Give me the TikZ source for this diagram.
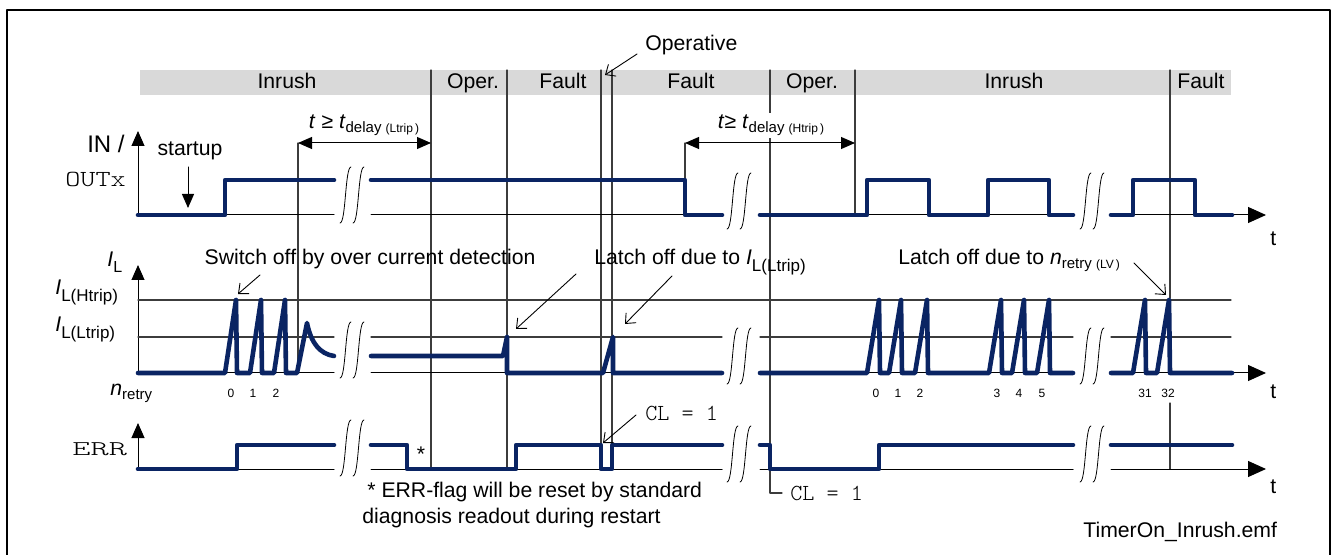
\documentclass[tikz,border=0pt]{standalone}
\usepackage{fontspec}
\setmainfont{Liberation Sans}
\newfontfamily\codefont{lmmonolt10-regular.otf}
\newfontfamily\codewide[FakeStretch=1.25]{lmmonolt10-regular.otf}
\newfontfamily\codexwide[FakeStretch=1.65]{lmmonolt10-regular.otf}
\usetikzlibrary{arrows.meta}
\definecolor{tmNavy}{HTML}{0A2463}
\definecolor{tmBand}{HTML}{D9D9D9}
\definecolor{tmPhase}{HTML}{3C3C3C}
\newcommand{\tmSigW}{2.3pt}
\newcommand{\tmThinW}{0.5pt}
% small subscripts as printed in the timing chart
\newcommand{\ssub}[1]{\raisebox{-2pt}{\fontsize{7.5}{8}\selectfont #1}}
\newcommand{\tsub}[1]{{\fontsize{6}{7}\selectfont #1}}
\newcommand{\Isub}[1]{\textit{I}\raisebox{-3.5pt}{\fontsize{8.5}{10}\selectfont #1}}
\tikzset{
  sig/.style={tmNavy, line width=\tmSigW, line join=round, line cap=round},
  thinline/.style={black, line width=\tmThinW},
  levelline/.style={tmPhase, line width=0.55pt},
  timeaxis/.style={thinline, -{Triangle[length=9pt,width=8pt]}},
  valaxis/.style={thinline, -{Triangle[length=7.5pt,width=6.5pt]}},
  phase/.style={tmPhase, line width=0.6pt},
  dimline/.style={thinline, {Triangle[length=7pt,width=6pt]}-{Triangle[length=7pt,width=6pt]}},
  callout/.style={black, line width=0.45pt, -{Straight Barb[length=4pt,width=7pt]}},
  startarrow/.style={thinline, -{Triangle[length=7pt,width=6pt]}},
  breakmark/.style={black, line width=0.4pt},
  lab/.style={inner sep=0pt, anchor=base},
  labw/.style={inner sep=0pt, anchor=base west},
  retrylab/.style={inner sep=0pt, anchor=base, font=\fontsize{6}{7}\selectfont},
}
\newcommand{\tmBreak}[2]{%
  \draw[breakmark, shift={(#1,#2)}]
    (-13,28) .. controls (-7,28) and (-8,-28) .. (-2,-28)
    (0,28) .. controls (6,28) and (5,-28) .. (11,-28);}

\begin{document}
\begin{tikzpicture}[x=0.5pt, y=-0.5pt, font=\fontsize{10.6}{13}\selectfont,
                    line cap=round, line join=round]
  \useasboundingbox (0,0) rectangle (1332,555);
  % Outer frame (bottom edge lies outside the picture)
  \draw[black, line width=0.6pt] (7,555) -- (7,10) -- (1330,10) -- (1330,555);

  % --- Phase band ---
  \fill[tmBand] (140,70) rectangle (1231,95);
  \node[lab] (phInrushA) at (287,89) {Inrush};
  \node[lab] (phOperA)   at (473,89) {Oper.};
  \node[lab] (phFaultA)  at (563,89) {Fault};
  \node[lab] (phFaultB)  at (691,89) {Fault};
  \node[lab] (phOperB)   at (812,89) {Oper.};
  \node[lab] (phInrushB) at (1014,89) {Inrush};
  \node[lab] (phFaultC)  at (1201,89) {Fault};

  % Phase boundaries
  \foreach \x in {431,507,601,612}
    \draw[phase] (\x,70) -- (\x,469);
  \draw[phase] (770,70) |- (782,493);
  \draw[phase] (855,70) -- (855,215);
  \draw[phase] (1170,70) -- (1170,298);
  \draw[phase] (1170,403) -- (1170,469);
  \draw[phase] (298,143) -- (298,373);
  \draw[phase] (685,143) -- (685,180);

  % Operative marker
  \node[labw] (opLab) at (645,51) {Operative};
  \coordinate (opTail) at (637,54);
  \coordinate (opTip) at (605,75);
  \draw[callout] (opTail) -- (opTip);

  % --- Delay dimensions ---
  \coordinate (dimLa) at (298,143);
  \coordinate (dimLb) at (431,143);
  \draw[dimline] (dimLa) -- (dimLb);
  \node[lab] (dimLlab) at (364,129)
    {\textit{t} ≥ \textit{t}\ssub{delay \tsub{(Ltrip\,)}}};
  \coordinate (dimHa) at (685,143);
  \coordinate (dimHb) at (855,143);
  \draw[dimline] (dimHa) -- (dimHb);
  \node[lab, fill=white, inner sep=1pt] (dimHlab) at (771,129)
    {\textit{t}≥ \textit{t}\ssub{delay \tsub{(Htrip\,)}}};

  % --- Axes and reference levels ---
  \draw[valaxis] (138,215) -- (138,131);
  \draw[valaxis] (138,373) -- (138,265);
  \draw[valaxis] (138,469) -- (138,423);
  \foreach \y in {215,373,469} {
    \draw[thinline] (138,\y) -- (334,\y) (371,\y) -- (722,\y) (760,\y) -- (1073,\y);
    \draw[timeaxis] (1111,\y) -- (1266,\y);
  }
  \draw[levelline] (138,300) -- (1231,300);
  \draw[levelline] (138,337) -- (334,337) (371,337) -- (722,337)
    (760,337) -- (1073,337) (1111,337) -- (1231,337);

  % Time breaks
  \foreach \x/\dy in {353/0,740/6,1093/6} {
    \tmBreak{\x}{195+\dy}
    \tmBreak{\x}{350+\dy}
    \tmBreak{\x}{448+\dy}
  }

  % --- Axis labels ---
  \node[inner sep=0pt, anchor=base east, font=\fontsize{12}{14}\selectfont] (inLab) at (125,153) {IN /};
  \node[labw] (outLab) at (65,187) {\fontsize{11.5}{12}\codewide OUTx};
  \node[labw] (ilLab) at (107,267) {\textit{I}\raisebox{-3pt}{\fontsize{8}{9}\selectfont L}};
  \node[labw] (htripLab) at (55,295) {\Isub{L(Htrip)}};
  \node[labw] (ltripLab) at (55,332) {\Isub{L(Ltrip)}};
  \node[labw] (nretryLab) at (110,395) {\textit{n}\ssub{retry}};
  \node[labw] (errLab) at (72,455) {\fontsize{10.5}{12}\codexwide ERR};
  \foreach \y/\k in {246/a,398/b,493/c}
    \node[labw] (tLab\k) at (1270,\y) {t};

  % --- IN / OUTx ---
  \node[lab] (suLab) at (190,156) {startup};
  \coordinate (suTail) at (188,167);
  \coordinate (suTip) at (188,208);
  \draw[startarrow] (suTail) -- (suTip);
  \draw[sig] (138,215) -- (225,215) -- (225,180) -- (334,180);
  \draw[sig] (371,180) -- (685,180) -- (685,215) -- (722,215);
  \draw[sig] (760,215) -- (867,215) -- (867,180) -- (929,180) -- (929,215)
    -- (988,215) -- (988,180) -- (1049,180) -- (1049,215) -- (1073,215);
  \draw[sig] (1111,215) -- (1133,215) -- (1133,180) -- (1195,180)
    -- (1195,215) -- (1232,215);

  % --- Load current I_L ---
  \draw[sig] (138,373) \foreach \s in {225,250,274} { -- (\s,373) -- ++(11,-73) -- ++(1,73) }
    -- (297,373) -- (307,323) .. controls (311,343) and (320,354) .. (334,356);
  \draw[sig] (371,356) -- (503,356) -- (507,337) -- (507,373) -- (603,373)
    -- (613,337) -- (613,373) -- (722,373);
  \draw[sig] (760,373) \foreach \s in {867,889,915,989,1012,1037} { -- (\s,373) -- ++(12,-73) -- ++(1,73) }
    -- (1073,373);
  \draw[sig] (1111,373) \foreach \s in {1133,1157} { -- (\s,373) -- ++(12,-73) -- ++(1,73) }
    -- (1232,373);

  % retry counter
  \foreach \x/\nlab [count=\i] in {231/0,253/1,276/2,876/0,898/1,920/2,997/3,1019/4,1042/5,1145/31,1168/32}
    \node[retrylab] (retry\i) at (\x,397) {\nlab};

  % callouts
  \node[lab] (swLab) at (370,265) {Switch off by over current detection};
  \coordinate (swTail) at (260,275);
  \coordinate (swTip) at (238,294);
  \draw[callout] (swTail) -- (swTip);
  \node[labw] (latchLab) at (594,265) {Latch off due to \Isub{L(Ltrip)}};
  \coordinate (latchTailA) at (576,274);
  \coordinate (latchTipA) at (516,329);
  \coordinate (latchTailB) at (672,276);
  \coordinate (latchTipB) at (625,324);
  \draw[callout] (latchTailA) -- (latchTipA);
  \draw[callout] (latchTailB) -- (latchTipB);
  \node[labw] (retryLab) at (898,265) {Latch off due to \textit{n}\ssub{retry \tsub{(LV\,)}}};
  \coordinate (retryTail) at (1134,263);
  \coordinate (retryTip) at (1166,295);
  \draw[callout] (retryTail) -- (retryTip);

  % --- ERR flag ---
  \draw[sig] (138,469) -- (237,469) -- (237,445) -- (334,445);
  \draw[sig] (371,445) -- (407,445) -- (407,469) -- (516,469) -- (516,445)
    -- (601,445) -- (601,469) -- (612,469) -- (612,445) -- (722,445);
  \draw[sig] (760,445) -- (770,445) -- (770,469) -- (879,469) -- (879,445) -- (1073,445);
  \draw[sig] (1111,445) -- (1232,445);
  \node[lab] (starLab) at (421,461) {*};
  \node[labw] (clLabA) at (645,420) {\fontsize{11.5}{12}\codefont CL = 1};
  \coordinate (clTail) at (636,415);
  \coordinate (clTip) at (603,443);
  \draw[callout] (clTail) -- (clTip);
  \node[labw] (clLabB) at (790,500) {\fontsize{11.5}{12}\codefont CL = 1};
  \node[labw] (noteLabA) at (367,497) {* ERR-flag will be reset by standard};
  \node[labw] (noteLabB) at (362,523) {diagnosis readout during restart};

  \node[labw] (fileLab) at (1083,537) {TimerOn\_Inrush.emf};
\end{tikzpicture}
\end{document}
